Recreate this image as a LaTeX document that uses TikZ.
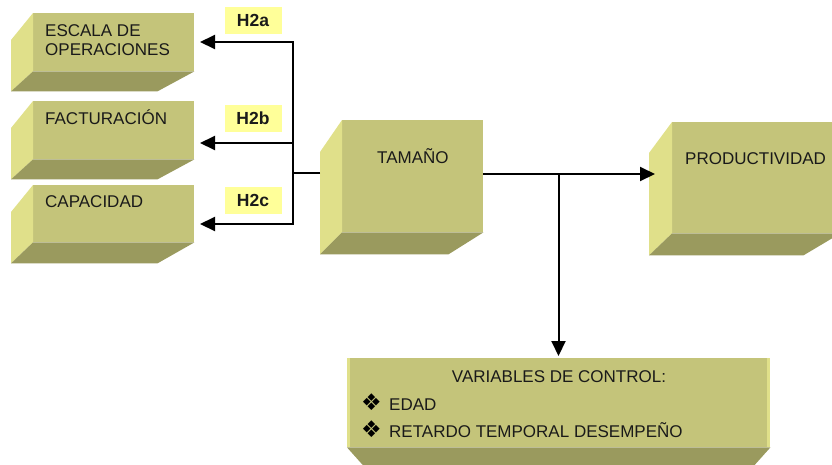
\documentclass[tikz,border=0pt]{standalone}
\usepackage{fontspec}
\setmainfont{Liberation Sans}
\newfontfamily\symfont{DejaVu Sans}
\usetikzlibrary{arrows.meta,calc}
\definecolor{olfront}{HTML}{C4C47A}
\definecolor{olside}{HTML}{E0E08A}
\definecolor{olbot}{HTML}{9A9A5E}
\definecolor{lblyellow}{HTML}{FFFF99}
\definecolor{txtc}{HTML}{1A1A1A}
\begin{document}
\begin{tikzpicture}[x=1pt,y=-1pt,
  front/.style={fill=olfront,draw=none,inner sep=0,anchor=north west},
  txt/.style={font=\fontsize{17}{19}\selectfont,inner sep=0,align=left,text=txtc},
  hlbl/.style={fill=lblyellow,font=\bfseries\fontsize{17.5}{19}\selectfont,text=txtc,minimum width=57pt,minimum height=27pt,inner sep=0},
  bul/.style={font=\symfont\fontsize{23}{23}\selectfont,inner sep=0,text=black},
  conn/.style={line width=2pt,line cap=rect},
  arr/.style={line width=2pt,-{Triangle[length=15pt,width=14pt]}}]
\useasboundingbox (0,0) rectangle (832,464);
\clip (0,0) rectangle (832,464);

% ---- left boxes ----
\node[front,minimum width=161pt,minimum height=58pt] (escala) at (33,13) {};
\fill[olside] (escala.north west) -- (escala.south west) -- ++(-22,20) -- ($(escala.north west)+(-22,27)$) -- cycle;
\fill[olbot] (escala.south west) -- (escala.south east) -- ++(-37,20) -- ($(escala.south west)+(-22,20)$) -- cycle;

\node[front,minimum width=161pt,minimum height=58pt] (fact) at (33,101) {};
\fill[olside] (fact.north west) -- (fact.south west) -- ++(-22,20) -- ($(fact.north west)+(-22,27)$) -- cycle;
\fill[olbot] (fact.south west) -- (fact.south east) -- ++(-37,20) -- ($(fact.south west)+(-22,20)$) -- cycle;

\node[front,minimum width=161pt,minimum height=57pt] (capa) at (33,185) {};
\fill[olside] (capa.north west) -- (capa.south west) -- ++(-22,21) -- ($(capa.north west)+(-22,27)$) -- cycle;
\fill[olbot] (capa.south west) -- (capa.south east) -- ++(-37,21) -- ($(capa.south west)+(-22,21)$) -- cycle;

% ---- TAMAÑO ----
\node[front,minimum width=141pt,minimum height=112pt] (tam) at (342,120) {};
\fill[olside] (tam.north west) -- (tam.south west) -- ++(-22,22) -- ($(tam.north west)+(-22,32)$) -- cycle;
\fill[olbot] (tam.south west) -- (tam.south east) -- ++(-35,22) -- ($(tam.south west)+(-22,22)$) -- cycle;

% ---- PRODUCTIVIDAD ----
\node[front,minimum width=168pt,minimum height=111pt] (prod) at (672,122) {};
\fill[olside] (prod.north west) -- (prod.south west) -- ++(-23,22) -- ($(prod.north west)+(-23,31)$) -- cycle;
\fill[olbot] (prod.south west) -- (prod.south east) -- ++(-37,22) -- ($(prod.south west)+(-23,22)$) -- cycle;

% ---- VARIABLES ----
\node[front,minimum width=423pt,minimum height=89pt] (vars) at (347,358) {};
\fill[olside] (vars.north west) rectangle ($(vars.south west)+(3,0)$);
\fill[olside] ($(vars.north east)+(-3,0)$) rectangle (vars.south east);
\fill[olbot] (vars.south west) -- (vars.south east) -- ++(-17,19) -- ($(vars.south west)+(17,19)$) -- cycle;

% ---- texts ----
\node[txt,anchor=base west] (t1) at (45,55) {ESCALA DE\\OPERACIONES};
\node[txt,anchor=base west] (t2) at (45,124) {FACTURACIÓN};
\node[txt,anchor=base west] (t3) at (45,207) {CAPACIDAD};
\node[txt,anchor=base west] (t4) at (377,163) {TAMAÑO};
\node[txt,anchor=base west] (t5) at (685,164) {PRODUCTIVIDAD};
\node[txt,anchor=base] (t6) at (559,382) {VARIABLES DE CONTROL:};
\node[bul,anchor=base west] (b1) at (361,410) {❖};
\node[bul,anchor=base west] (b2) at (361,437) {❖};
\node[txt,anchor=base west] (t7) at (389,410) {EDAD};
\node[txt,anchor=base west] (t8) at (389,437) {RETARDO TEMPORAL DESEMPEÑO};

% ---- labels ----
\node[hlbl] (h2a) at (253,20) {H2a};
\node[hlbl] (h2b) at (253,118) {H2b};
\node[hlbl] (h2c) at (253,200) {H2c};

% ---- connectors ----
\coordinate (jt) at (292.7,42);
\coordinate (jm) at (292.7,173);
\coordinate (jb) at (292.7,224);
\coordinate (e1) at (200,42);
\coordinate (e2) at (200,143);
\coordinate (e3) at (200,224);
\coordinate (tl) at (320,173);
\coordinate (tr) at (483,174);
\coordinate (jr) at (558.5,174);
\coordinate (pl) at (655,174);
\coordinate (vt) at (558.5,356);

\draw[conn] (jt) -- (jb);
\draw[arr] (jt) -- (e1);
\draw[arr] (jm |- e2) -- (e2);
\draw[arr] (jb) -- (e3);
\draw[conn,line cap=butt] (tl) -- (jm);
\draw[arr] (tr) -- (pl);
\draw[arr] (jr) -- (vt);
\end{tikzpicture}
\end{document}
